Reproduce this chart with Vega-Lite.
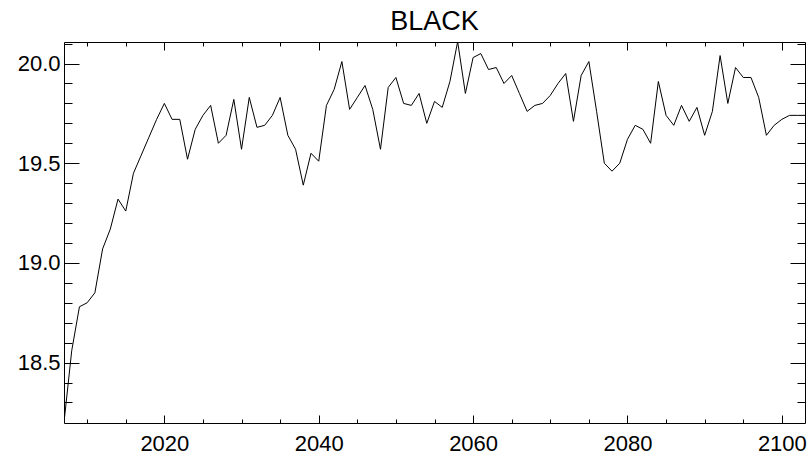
{
  "$schema": "https://vega.github.io/schema/vega-lite/v6.json",
  "width": 741,
  "height": 381,
  "autosize": "none",
  "padding": {"left": 64, "top": 42, "right": 3, "bottom": 32},
  "background": "white",
  "title": {"text": "BLACK", "fontSize": 27, "font": "Liberation Sans", "fontWeight": "normal", "color": "black", "baseline": "alphabetic", "offset": -15},
  "config": {
    "view": {"stroke": "black", "strokeWidth": 1},
    "axis": {"grid": false, "domain": false, "title": null, "tickColor": "black", "tickWidth": 1, "labelColor": "black", "labelFont": "Liberation Sans", "labelFontSize": 22, "labelFlush": false, "labelOverlap": false}
  },
  "data": {"values": [
    {"year": 2007, "v": 18.20}, {"year": 2008, "v": 18.56}, {"year": 2009, "v": 18.78}, {"year": 2010, "v": 18.80},
    {"year": 2011, "v": 18.85}, {"year": 2012, "v": 19.07}, {"year": 2013, "v": 19.17}, {"year": 2014, "v": 19.32},
    {"year": 2015, "v": 19.26}, {"year": 2016, "v": 19.45}, {"year": 2017, "v": 19.54}, {"year": 2018, "v": 19.63},
    {"year": 2019, "v": 19.72}, {"year": 2020, "v": 19.80}, {"year": 2021, "v": 19.72}, {"year": 2022, "v": 19.72},
    {"year": 2023, "v": 19.52}, {"year": 2024, "v": 19.67}, {"year": 2025, "v": 19.74}, {"year": 2026, "v": 19.79},
    {"year": 2027, "v": 19.60}, {"year": 2028, "v": 19.64}, {"year": 2029, "v": 19.82}, {"year": 2030, "v": 19.57},
    {"year": 2031, "v": 19.83}, {"year": 2032, "v": 19.68}, {"year": 2033, "v": 19.69}, {"year": 2034, "v": 19.74},
    {"year": 2035, "v": 19.83}, {"year": 2036, "v": 19.64}, {"year": 2037, "v": 19.57}, {"year": 2038, "v": 19.39},
    {"year": 2039, "v": 19.55}, {"year": 2040, "v": 19.51}, {"year": 2041, "v": 19.79}, {"year": 2042, "v": 19.87},
    {"year": 2043, "v": 20.01}, {"year": 2044, "v": 19.77}, {"year": 2045, "v": 19.83}, {"year": 2046, "v": 19.89},
    {"year": 2047, "v": 19.77}, {"year": 2048, "v": 19.57}, {"year": 2049, "v": 19.88}, {"year": 2050, "v": 19.93},
    {"year": 2051, "v": 19.80}, {"year": 2052, "v": 19.79}, {"year": 2053, "v": 19.85}, {"year": 2054, "v": 19.70},
    {"year": 2055, "v": 19.81}, {"year": 2056, "v": 19.78}, {"year": 2057, "v": 19.91}, {"year": 2058, "v": 20.11},
    {"year": 2059, "v": 19.85}, {"year": 2060, "v": 20.03}, {"year": 2061, "v": 20.05}, {"year": 2062, "v": 19.97},
    {"year": 2063, "v": 19.98}, {"year": 2064, "v": 19.90}, {"year": 2065, "v": 19.94}, {"year": 2066, "v": 19.85},
    {"year": 2067, "v": 19.76}, {"year": 2068, "v": 19.79}, {"year": 2069, "v": 19.80}, {"year": 2070, "v": 19.84},
    {"year": 2071, "v": 19.90}, {"year": 2072, "v": 19.95}, {"year": 2073, "v": 19.71}, {"year": 2074, "v": 19.94},
    {"year": 2075, "v": 20.01}, {"year": 2076, "v": 19.76}, {"year": 2077, "v": 19.50}, {"year": 2078, "v": 19.46},
    {"year": 2079, "v": 19.50}, {"year": 2080, "v": 19.62}, {"year": 2081, "v": 19.69}, {"year": 2082, "v": 19.67},
    {"year": 2083, "v": 19.60}, {"year": 2084, "v": 19.91}, {"year": 2085, "v": 19.74}, {"year": 2086, "v": 19.69},
    {"year": 2087, "v": 19.79}, {"year": 2088, "v": 19.71}, {"year": 2089, "v": 19.78}, {"year": 2090, "v": 19.64},
    {"year": 2091, "v": 19.76}, {"year": 2092, "v": 20.04}, {"year": 2093, "v": 19.80}, {"year": 2094, "v": 19.98},
    {"year": 2095, "v": 19.93}, {"year": 2096, "v": 19.93}, {"year": 2097, "v": 19.83}, {"year": 2098, "v": 19.64},
    {"year": 2099, "v": 19.69}, {"year": 2100, "v": 19.72}, {"year": 2101, "v": 19.74}, {"year": 2102, "v": 19.74},
    {"year": 2103, "v": 19.74}
  ]},
  "resolve": {"axis": {"x": "independent", "y": "independent"}},
  "layer": [
    {
      "mark": {"type": "line", "color": "black", "strokeWidth": 1, "clip": true},
      "encoding": {
        "x": {"field": "year", "type": "quantitative", "scale": {"domain": [2007, 2103], "nice": false, "zero": false},
              "axis": {"orient": "bottom", "values": [2020, 2040, 2060, 2080, 2100], "ticks": false, "labelPadding": 10, "format": "d"}},
        "y": {"field": "v", "type": "quantitative", "scale": {"domain": [18.197, 20.108], "nice": false, "zero": false},
              "axis": {"orient": "left", "values": [18.5, 19.0, 19.5, 20.0], "ticks": false, "labelPadding": 4, "format": ".1f"}}
      }
    },
    {
      "mark": {"type": "line", "strokeOpacity": 0},
      "encoding": {
        "x": {"field": "year", "type": "quantitative", "axis": {"orient": "bottom", "values": [2020, 2040, 2060, 2080, 2100], "labels": false, "tickSize": -8}},
        "y": {"field": "v", "type": "quantitative", "axis": {"orient": "left", "values": [18.5, 19.0, 19.5, 20.0], "labels": false, "tickSize": -15}}
      }
    },
    {
      "mark": {"type": "line", "strokeOpacity": 0},
      "encoding": {
        "x": {"field": "year", "type": "quantitative", "axis": {"orient": "bottom", "values": [2010, 2015, 2020, 2025, 2030, 2035, 2040, 2045, 2050, 2055, 2060, 2065, 2070, 2075, 2080, 2085, 2090, 2095, 2100], "labels": false, "tickSize": -4}},
        "y": {"field": "v", "type": "quantitative", "axis": {"orient": "left", "values": [18.3, 18.4, 18.5, 18.6, 18.7, 18.8, 18.9, 19.0, 19.1, 19.2, 19.3, 19.4, 19.5, 19.6, 19.7, 19.8, 19.9, 20.0, 20.1], "labels": false, "tickSize": -8}}
      }
    },
    {
      "mark": {"type": "line", "strokeOpacity": 0},
      "encoding": {
        "x": {"field": "year", "type": "quantitative", "axis": {"orient": "top", "values": [2020, 2040, 2060, 2080, 2100], "labels": false, "tickSize": -8}},
        "y": {"field": "v", "type": "quantitative", "axis": {"orient": "right", "values": [18.5, 19.0, 19.5, 20.0], "labels": false, "tickSize": -15}}
      }
    },
    {
      "mark": {"type": "line", "strokeOpacity": 0},
      "encoding": {
        "x": {"field": "year", "type": "quantitative", "axis": {"orient": "top", "values": [2010, 2015, 2020, 2025, 2030, 2035, 2040, 2045, 2050, 2055, 2060, 2065, 2070, 2075, 2080, 2085, 2090, 2095, 2100], "labels": false, "tickSize": -4}},
        "y": {"field": "v", "type": "quantitative", "axis": {"orient": "right", "values": [18.3, 18.4, 18.5, 18.6, 18.7, 18.8, 18.9, 19.0, 19.1, 19.2, 19.3, 19.4, 19.5, 19.6, 19.7, 19.8, 19.9, 20.0, 20.1], "labels": false, "tickSize": -8}}
      }
    }
  ]
}
